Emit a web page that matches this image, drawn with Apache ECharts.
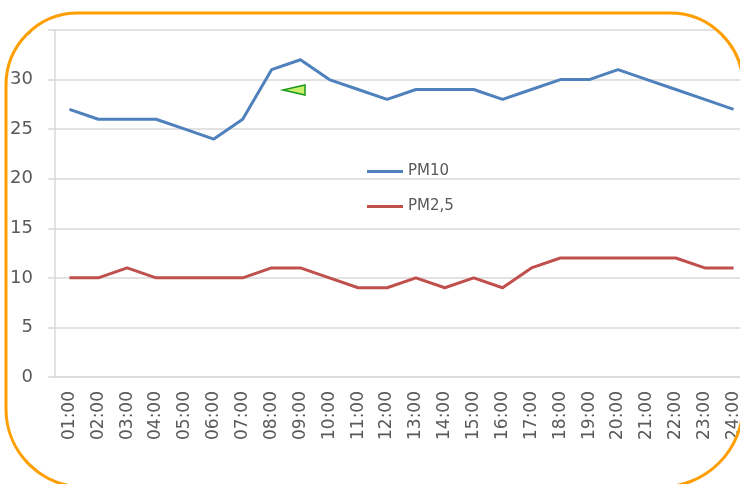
<!DOCTYPE html>
<html>
<head>
<meta charset="utf-8">
<script src="https://cdn.jsdelivr.net/npm/echarts@6/dist/echarts.min.js"></script>
<style>
    html, body { margin: 0; padding: 0; background: #fff; overflow: hidden; }
    #page { position: relative; width: 740px; height: 484px; overflow: hidden; }
    #chart { position: absolute; left: 0; top: 0; width: 760px; height: 484px; }
    #frame { position: absolute; left: 0; top: 0; width: 740px; height: 484px; pointer-events: none; }
</style>
</head>
<body>
<div id="page">
<div id="chart"></div>
<!-- rounded orange frame; whatever lies outside it is painted white -->
<svg id="frame" width="740" height="484" viewBox="0 0 740 484">
    <path fill="#fff" fill-rule="evenodd"
          d="M0 0H740V484H0Z M78 13H670A73 73 0 0 1 743 86V405A82 82 0 0 1 661 487H84A78 78 0 0 1 6 409V85A72 72 0 0 1 78 13Z"/>
    <path fill="none" stroke="#ff9e00" stroke-width="3"
          d="M78 13H670A73 73 0 0 1 743 86V405A82 82 0 0 1 661 487H84A78 78 0 0 1 6 409V85A72 72 0 0 1 78 13Z"/>
</svg>
</div>
<script>
const hours = ['01:00', '02:00', '03:00', '04:00', '05:00', '06:00', '07:00', '08:00',
    '09:00', '10:00', '11:00', '12:00', '13:00', '14:00', '15:00', '16:00',
    '17:00', '18:00', '19:00', '20:00', '21:00', '22:00', '23:00', '24:00'];
const pm10 = [27, 26, 26, 26, 25, 24, 26, 31, 32, 30, 29, 28, 29, 29, 29, 28, 29, 30, 30, 31, 30, 29, 28, 27];
const pm25 = [10, 10, 11, 10, 10, 10, 10, 11, 11, 10, 9, 9, 10, 9, 10, 9, 11, 12, 12, 12, 12, 12, 11, 11];

const gridColor = '#d9d9d9';
const textColor = '#595959';

const mychart = echarts.init(document.getElementById('chart'));

const option = {
    animation: false,
    textStyle: { fontFamily: 'DejaVu Sans' },
    grid: { left: 55, right: 12, top: 30, bottom: 107 },
    legend: {
        orient: 'vertical',
        left: 362,
        top: 159,
        icon: 'rect',
        itemWidth: 36,
        itemHeight: 3,
        itemGap: 20,
        textStyle: { fontSize: 15, color: textColor },
        data: ['PM10', 'PM2,5']
    },
    xAxis: {
        type: 'category',
        data: hours,
        boundaryGap: true,
        axisLine: { lineStyle: { color: gridColor, width: 1.5 } },
        axisTick: { length: 7, lineStyle: { color: gridColor, width: 1.5 } },
        axisLabel: { rotate: 90, interval: 0, fontSize: 17, margin: 14, color: textColor }
    },
    yAxis: {
        type: 'value',
        min: 0,
        max: 35,
        interval: 5,
        axisLine: { show: true, lineStyle: { color: gridColor, width: 1.5 } },
        axisTick: { show: true, length: 7, lineStyle: { color: gridColor, width: 1.5 } },
        splitLine: { lineStyle: { color: gridColor, width: 1.5 } },
        axisLabel: { fontSize: 18, margin: 22, color: textColor }
    },
    series: [
        {
            name: 'PM10',
            type: 'line',
            data: pm10,
            showSymbol: false,
            color: '#4f81bd',
            lineStyle: { width: 3 }
        },
        {
            name: 'PM2,5',
            type: 'line',
            data: pm25,
            showSymbol: false,
            color: '#c0504d',
            lineStyle: { width: 3 }
        }
    ],
    // little green marker left over in the screenshot
    graphic: [{
        type: 'polygon',
        shape: { points: [[283, 90], [305, 85], [305, 95]] },
        style: { fill: '#c8f06a', stroke: '#1a9a1a', lineWidth: 1.5 }
    }]
};

mychart.setOption(option);
</script>
</body>
</html>
